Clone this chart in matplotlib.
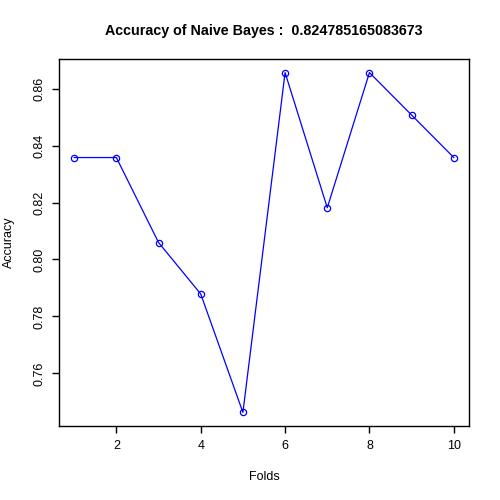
import matplotlib
matplotlib.use('Agg')
import matplotlib.pyplot as plt
import numpy as np

# fold accuracies
folds = list(range(1, 11))
correct = [56, 56, 54, 52, 50, 58, 54, 58, 57, 56]
totals = [67, 67, 67, 66, 67, 67, 66, 67, 67, 67]
accuracy = np.array(correct) / np.array(totals)
title = 'Accuracy of Naive Bayes :  0.824785165083673'
xticks = [2, 4, 6, 8, 10]
yticks = [0.76, 0.78, 0.80, 0.82, 0.84, 0.86]

plt.rcParams['font.family'] = ['Liberation Sans', 'DejaVu Sans']

fig = plt.figure(figsize=(5, 5), dpi=100)
ax = fig.add_axes([0.118, 0.148, 0.82, 0.734])
ax.plot(folds, accuracy, color='blue', linewidth=0.9, marker='o',
        markersize=4.5, markerfacecolor='none', markeredgecolor='blue',
        markeredgewidth=0.9)

# R style 4% padding
xr = max(folds) - min(folds)
ax.set_xlim(min(folds) - 0.04 * xr, max(folds) + 0.04 * xr)
yr = accuracy.max() - accuracy.min()
ax.set_ylim(accuracy.min() - 0.04 * yr, accuracy.max() + 0.04 * yr)

ax.set_xticks(xticks)
ax.set_xticklabels([str(x) for x in xticks])
ax.set_yticks(yticks)
ax.set_yticklabels(['%.2f' % y for y in yticks], rotation=90, va='center')
ax.tick_params(axis='both', length=5, width=1, labelsize=9, pad=5)
for s in ax.spines.values():
    s.set_linewidth(1)

ax.set_xlabel('Folds', fontsize=9, va='center')
ax.xaxis.set_label_coords(0.5, -0.139)
ax.set_ylabel('Accuracy', fontsize=9, va='center')
ax.yaxis.set_label_coords(-0.122, 0.5)
fig.text(0.527, 0.938, title, fontsize=10.3, fontweight='bold',
         ha='center', va='center')

fig.savefig('out.png', dpi=100)
